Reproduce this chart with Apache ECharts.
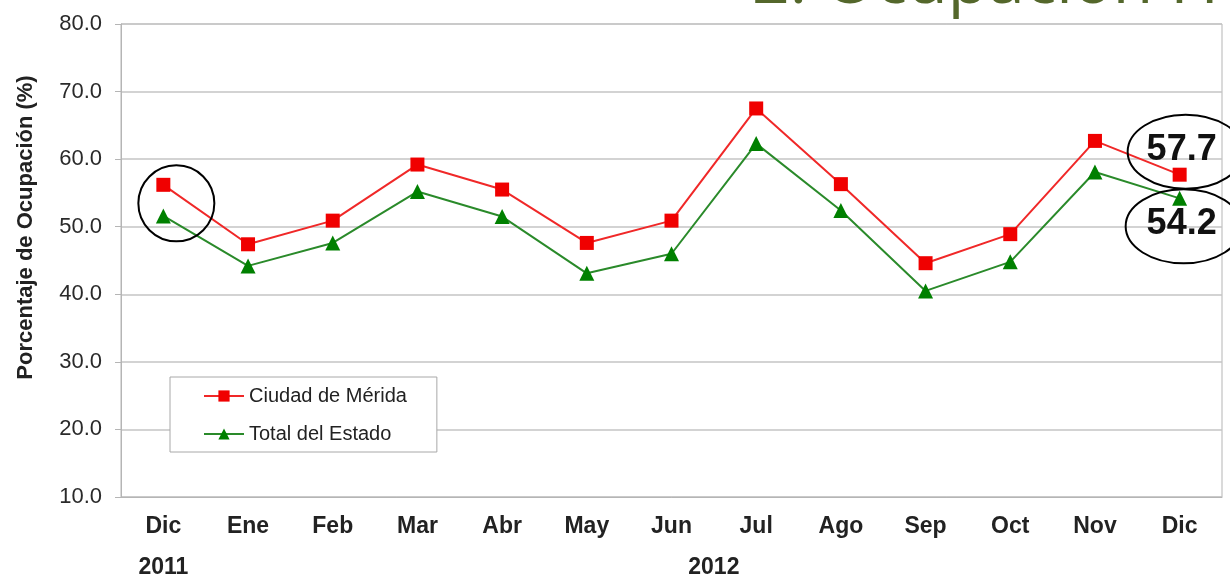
<!DOCTYPE html>
<html>
<head>
<meta charset="utf-8">
<script src="https://cdn.jsdelivr.net/npm/echarts@6/dist/echarts.min.js"></script>
<style>
html,body{margin:0;padding:0;background:#fff;}
#c{width:1230px;height:578px;}
</style>
</head>
<body>
<div id="c"></div>
<script>
const categories = ['Dic','Ene','Feb','Mar','Abr','May','Jun','Jul','Ago','Sep','Oct','Nov','Dic'];
const yearLabels = ['2011','2012'];
const merida = [56.2, 47.4, 50.9, 59.2, 55.5, 47.6, 50.9, 67.5, 56.3, 44.6, 48.9, 62.7, 57.7];
const estado = [51.6, 44.2, 47.6, 55.2, 51.5, 43.1, 46.0, 62.3, 52.4, 40.5, 44.8, 58.1, 54.2];
const seriesNames = ['Ciudad de Mérida', 'Total del Estado'];
const yAxisName = 'Porcentaje de Ocupación (%)';
const titleText = '2. Ocupación H';

const FONT = 'Liberation Sans, Arial, sans-serif';
const chart = echarts.init(document.getElementById('c'));
const last = categories.length - 1;

function lastLabel(pos) {
  return {
    show: true, position: pos, distance: 0, offset: [2, 0],
    fontFamily: FONT, fontWeight: 'bold', fontSize: 36, color: '#111',
    formatter: p => p.value.toFixed(1)
  };
}

chart.setOption({
  animation: false,
  backgroundColor: '#fff',
  grid: { left: 121, right: 8, top: 24, bottom: 81, show: true, borderColor: '#b5b5b5', borderWidth: 1 },
  legend: {
    orient: 'vertical', left: 170, top: 377,
    padding: [9, 30, 8, 33], itemGap: 18, itemWidth: 40, itemHeight: 14,
    backgroundColor: '#fff', borderColor: '#a8a8a8', borderWidth: 1,
    textStyle: { fontFamily: FONT, fontSize: 20, color: '#222' },
    data: seriesNames
  },
  xAxis: {
    type: 'category', data: categories, boundaryGap: true,
    axisLine: { lineStyle: { color: '#b5b5b5', width: 1 } },
    axisTick: { show: false },
    axisLabel: { fontFamily: FONT, fontWeight: 'bold', fontSize: 23, color: '#222', margin: 18 },
    splitLine: { show: false }
  },
  yAxis: {
    type: 'value', min: 10, max: 80, interval: 10,
    name: yAxisName, nameLocation: 'middle', nameGap: 84,
    nameTextStyle: { fontFamily: FONT, fontWeight: 'bold', fontSize: 22, color: '#222', padding: [0, 0, 0, 66] },
    axisLine: { show: true, lineStyle: { color: '#b5b5b5', width: 1 } },
    axisTick: { show: true, length: 6, lineStyle: { color: '#b5b5b5' } },
    axisLabel: { fontFamily: FONT, fontSize: 22, color: '#2a2a2a', margin: 19, formatter: v => v.toFixed(1) },
    splitLine: { lineStyle: { color: '#c4c4c4', width: 1.5 } }
  },
  series: [
    {
      name: seriesNames[0], type: 'line', data: merida.map((v, i) => i === last ? { value: v, label: lastLabel('top') } : v),
      symbol: 'rect', symbolSize: 14,
      lineStyle: { color: '#f02828', width: 2 },
      itemStyle: { color: '#f00000' },
      z: 3
    },
    {
      name: seriesNames[1], type: 'line', data: estado.map((v, i) => i === last ? { value: v, label: lastLabel('bottom') } : v),
      symbol: 'triangle', symbolSize: 15,
      lineStyle: { color: '#2a8a2a', width: 2 },
      itemStyle: { color: '#008000' },
      z: 2
    }
  ]
});

// annotations positioned from the data through the chart's own scales
const p0r = chart.convertToPixel({ seriesIndex: 0 }, [0, merida[0]]);
const p0g = chart.convertToPixel({ seriesIndex: 1 }, [0, estado[0]]);
const pLr = chart.convertToPixel({ seriesIndex: 0 }, [last, merida[last]]);
const pLg = chart.convertToPixel({ seriesIndex: 1 }, [last, estado[last]]);
const p1 = chart.convertToPixel({ xAxisIndex: 0 }, 1);
const yBottom = chart.convertToPixel({ yAxisIndex: 0 }, 10);
const stroke = { fill: 'none', stroke: '#000', lineWidth: 2 };

chart.setOption({
  graphic: [
    { type: 'text', left: 752, top: -49, silent: true,
      style: { text: titleText, fontFamily: 'Open Sans, Noto Sans, sans-serif', fontWeight: 'normal', fontSize: 66, fill: '#54672b' } },
    { type: 'circle', shape: { cx: p0r[0] + 13, cy: (p0r[1] + p0g[1]) / 2 + 3, r: 38 }, style: stroke, z: 10 },
    { type: 'ellipse', shape: { cx: pLr[0] + 6, cy: pLr[1] - 23, rx: 58, ry: 37 }, style: stroke, z: 10 },
    { type: 'ellipse', shape: { cx: pLg[0] + 4, cy: pLg[1] + 28, rx: 58, ry: 37 }, style: stroke, z: 10 },
    { type: 'text', x: p0r[0], y: yBottom + 71, silent: true,
      style: { text: yearLabels[0], fontFamily: FONT, fontWeight: 'bold', fontSize: 23, fill: '#222', textAlign: 'center', textVerticalAlign: 'middle' } },
    { type: 'text', x: (p1 + pLr[0]) / 2, y: yBottom + 71, silent: true,
      style: { text: yearLabels[1], fontFamily: FONT, fontWeight: 'bold', fontSize: 23, fill: '#222', textAlign: 'center', textVerticalAlign: 'middle' } }
  ]
});
</script>
</body>
</html>
